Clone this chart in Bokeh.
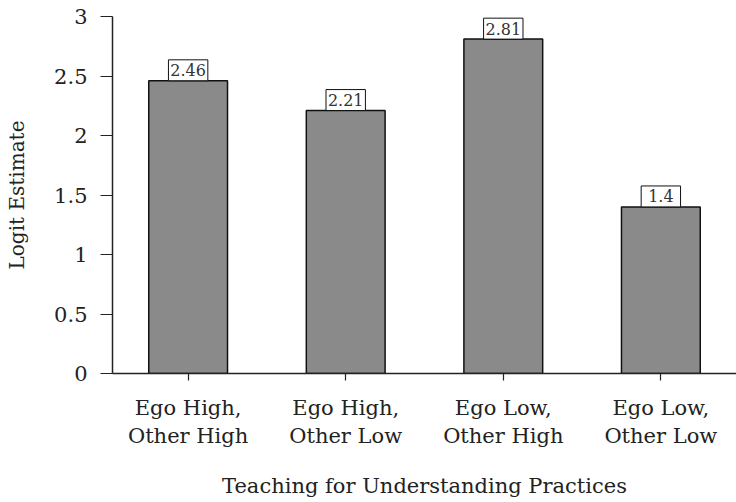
from bokeh.plotting import figure
from bokeh.models import Range1d, FixedTicker, ColumnDataSource
from bokeh.core.properties import value
from bokeh.embed import file_html
from bokeh.resources import INLINE

# Data
categories = ["Ego High,\nOther High", "Ego High,\nOther Low",
              "Ego Low,\nOther High", "Ego Low,\nOther Low"]
estimates = [2.46, 2.21, 2.81, 1.4]
y_ticks = [0, 0.5, 1, 1.5, 2, 2.5, 3]
y_tick_labels = ["0", "0.5", "1", "1.5", "2", "2.5", "3"]
x_title = "Teaching for Understanding Practices"
y_title = "Logit Estimate"

FONT = "DejaVu Serif"
INK = "#222222"

xs = list(range(len(categories)))
box_h = 0.176  # value-label box height, in data units
src = ColumnDataSource(dict(
    x=xs,
    top=estimates,
    box_y=[v + box_h / 2 for v in estimates],
    label=[str(v) for v in estimates],
))

p = figure(width=736, height=502, output_backend="svg", toolbar_location=None,
           x_range=Range1d(-0.48, 3.48), y_range=Range1d(0, 3),
           min_border_left=112, min_border_right=0,
           min_border_top=16, min_border_bottom=129)
p.outline_line_color = None
p.grid.visible = False
p.background_fill_color = "white"
p.border_fill_color = "white"

# Bars
p.vbar(x="x", top="top", width=0.5, source=src,
       fill_color="#8a8a8a", line_color="#111111", line_width=1.5)

# Boxed value labels
p.rect(x="x", y="box_y", width=0.25, height=box_h, source=src,
       fill_color="white", line_color="#111111", line_width=1)
p.text(x="x", y="box_y", text="label", source=src,
       text_align="center", text_baseline="middle",
       text_font=value(FONT), text_font_size="16px", text_color="#333333")

# Axes
xa = p.xaxis[0]
xa.ticker = FixedTicker(ticks=xs)
xa.major_label_overrides = {i: c for i, c in enumerate(categories)}
xa.major_tick_out = 7
xa.major_tick_in = 0
xa.minor_tick_line_color = None
xa.axis_line_color = INK
xa.axis_line_width = 1.5
xa.major_tick_line_color = INK
xa.major_tick_line_width = 1.2
xa.major_label_text_font = FONT
xa.major_label_text_font_size = "21px"
xa.major_label_text_color = INK
xa.major_label_standoff = 15
xa.axis_label = x_title
xa.axis_label_text_font = FONT
xa.axis_label_text_font_size = "21px"
xa.axis_label_text_font_style = "normal"
xa.axis_label_text_color = INK
xa.axis_label_standoff = 23

ya = p.yaxis[0]
ya.ticker = FixedTicker(ticks=y_ticks)
ya.major_label_overrides = {t: l for t, l in zip(y_ticks, y_tick_labels)}
ya.major_tick_out = 12
ya.major_tick_in = 0
ya.minor_tick_line_color = None
ya.axis_line_color = INK
ya.axis_line_width = 1.5
ya.major_tick_line_color = INK
ya.major_tick_line_width = 1.2
ya.major_label_text_font = FONT
ya.major_label_text_font_size = "21px"
ya.major_label_text_color = INK
ya.major_label_standoff = 13
ya.axis_label = y_title
ya.axis_label_text_font = FONT
ya.axis_label_text_font_size = "20px"
ya.axis_label_text_font_style = "normal"
ya.axis_label_text_color = INK
ya.axis_label_standoff = 22

open("out.html", "w").write(file_html(p, INLINE))
